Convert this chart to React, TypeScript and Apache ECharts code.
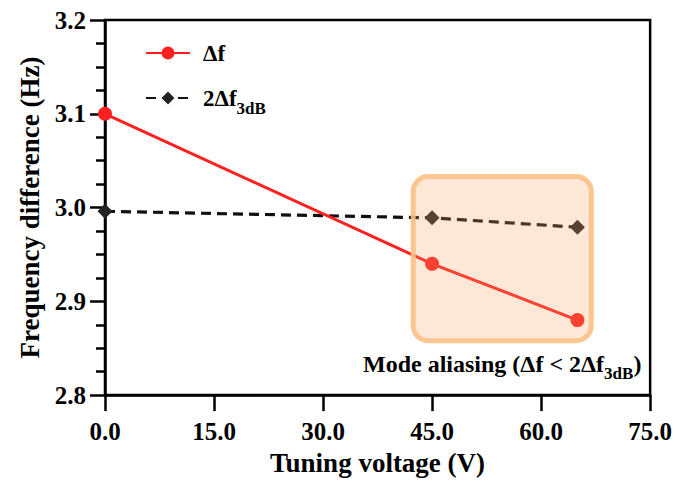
import React, { useEffect, useRef } from "react";
import * as echarts from "echarts";

// Tuning voltage (V)
const voltages = [0, 45, 65];
// Measured frequency difference Δf (Hz)
const deltaF = [3.1, 2.94, 2.88];
// Twice the 3 dB linewidth, 2Δf3dB (Hz)
const twoDeltaF3dB = [2.996, 2.989, 2.979];

// Shaded region marking mode aliasing, in data coordinates
const aliasX = [42.4, 66.9];
const aliasY = [3.033, 2.858];

const FONT = "'Liberation Serif', 'Times New Roman', serif";

export default function App() {
  const ref = useRef<HTMLDivElement>(null);

  useEffect(() => {
    if (!ref.current) return;
    const chart = echarts.init(ref.current, undefined, { renderer: "svg" });

    chart.setOption({
      animation: false,
      backgroundColor: "#fff",
      grid: {
        left: 105,
        right: 24,
        top: 20,
        bottom: 84,
        show: true,
        borderColor: "#000",
        borderWidth: 2.5,
      },
      legend: {
        orient: "vertical",
        left: 140,
        top: 35,
        itemWidth: 44,
        itemHeight: 16,
        itemGap: 19,
        textStyle: {
          fontFamily: FONT,
          fontWeight: "bold",
          fontSize: 23,
          color: "#000",
          padding: [0, 0, 0, 8],
          lineHeight: 26,
          rich: {
            sub: { fontSize: 17, fontWeight: "bold", fontFamily: FONT, color: "#000", verticalAlign: "bottom", padding: [0, 0, -6, 0] },
          },
        },
        formatter: (name: string) => (name === "2Δf3dB" ? "2Δf{sub|3dB}" : name),
        data: ["Δf", "2Δf3dB"],
      },
      xAxis: {
        type: "value",
        min: 0,
        max: 75,
        interval: 15,
        name: "Tuning voltage (V)",
        nameLocation: "middle",
        nameGap: 52,
        nameTextStyle: { fontFamily: FONT, fontWeight: "bold", fontSize: 27, color: "#000" },
        axisLine: { lineStyle: { color: "#000", width: 2.5 } },
        axisTick: { inside: false, length: 16, lineStyle: { color: "#000", width: 2.5 } },
        axisLabel: {
          fontFamily: FONT,
          fontWeight: "bold",
          fontSize: 25,
          color: "#000",
          margin: 24,
          formatter: (v: number) => v.toFixed(1),
        },
        splitLine: { show: false },
      },
      yAxis: {
        type: "value",
        min: 2.8,
        max: 3.2,
        interval: 0.1,
        name: "Frequency difference (Hz)",
        nameLocation: "middle",
        nameGap: 62,
        nameTextStyle: { fontFamily: FONT, fontWeight: "bold", fontSize: 27, color: "#000" },
        axisLine: { lineStyle: { color: "#000", width: 2.5 } },
        axisTick: { length: 15, lineStyle: { color: "#000", width: 2.5 } },
        minorTick: { show: true, splitNumber: 4, length: 9, lineStyle: { color: "#000", width: 2.5 } },
        axisLabel: {
          fontFamily: FONT,
          fontWeight: "bold",
          fontSize: 25,
          color: "#000",
          margin: 19,
          formatter: (v: number) => v.toFixed(1),
        },
        splitLine: { show: false },
      },
      series: [
        {
          name: "2Δf3dB",
          type: "line",
          data: voltages.map((v, i) => [v, twoDeltaF3dB[i]]),
          symbol: "diamond",
          symbolSize: 15,
          itemStyle: { color: "#222" },
          lineStyle: { color: "#111", width: 3.2, type: [10, 6] },
          z: 2,
        },
        {
          name: "Δf",
          type: "line",
          data: voltages.map((v, i) => [v, deltaF[i]]),
          symbol: "circle",
          symbolSize: 14,
          itemStyle: { color: "#ff2020" },
          lineStyle: { color: "#ff2020", width: 3 },
          z: 3,
        },
      ],
    });

    // Overlay the aliasing region using the chart's own coordinate mapping
    const p0 = chart.convertToPixel({ gridIndex: 0 }, [aliasX[0], aliasY[0]]) as number[];
    const p1 = chart.convertToPixel({ gridIndex: 0 }, [aliasX[1], aliasY[1]]) as number[];
    const cx = (p0[0] + p1[0]) / 2;

    chart.setOption({
      graphic: [
        {
          type: "rect",
          z: 100,
          shape: { x: p0[0], y: p0[1], width: p1[0] - p0[0], height: p1[1] - p0[1], r: 15 },
          style: {
            fill: "rgba(246, 165, 95, 0.25)",
            stroke: "rgba(252, 192, 135, 0.9)",
            lineWidth: 5,
          },
        },
        {
          type: "text",
          z: 101,
          x: cx,
          y: p1[1] + 11,
          style: {
            text: "Mode aliasing (Δf < 2Δf{sub|3dB})",
            fontFamily: FONT,
            fontWeight: "bold",
            fontSize: 24,
            fill: "#000",
            align: "center",
            verticalAlign: "top",
            rich: {
              sub: { fontSize: 17, fontWeight: "bold", fontFamily: FONT, fill: "#000", padding: [0, 0, -6, 0], verticalAlign: "bottom" },
            },
          },
        },
      ],
    });

    return () => chart.dispose();
  }, []);

  return <div ref={ref} style={{ width: 675, height: 481, position: "absolute", left: 0, top: 0 }} />;
}
